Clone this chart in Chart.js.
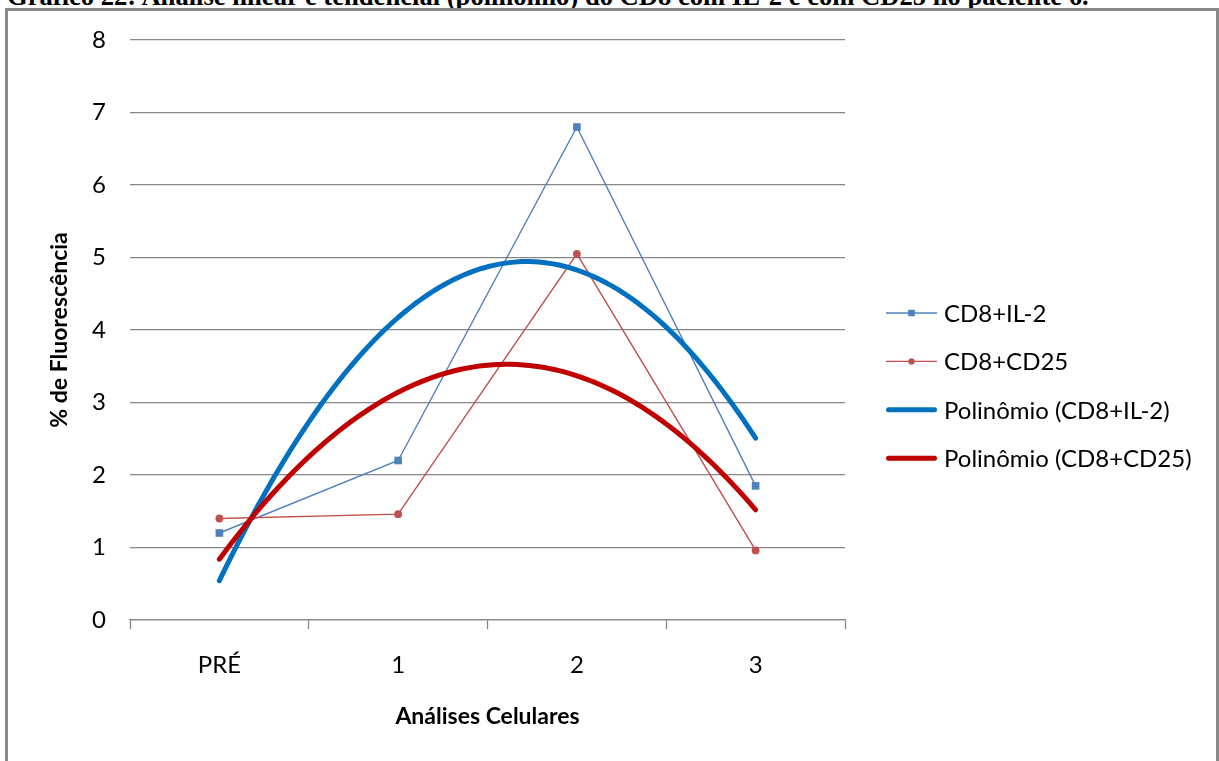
<!DOCTYPE html>
<html lang="pt">
<head>
<meta charset="utf-8">
<title>Gráfico 22</title>
<script src="https://cdn.jsdelivr.net/npm/chart.js@4"></script>
<style>
  html, body { margin: 0; padding: 0; background: #fff; width: 1219px; height: 761px; overflow: hidden; }
  #caption {
    position: absolute; left: 7px; top: -18px; margin: 0;
    font: bold 26.6px "Liberation Serif", "Times New Roman", serif;
    line-height: 28px; white-space: nowrap; color: #000;
  }
  #frame {
    position: absolute; left: 5px; top: 8px; width: 1214px; height: 800px;
    box-sizing: border-box; border: 3px solid #8a8a8a; border-bottom: none;
  }
  #chart { position: absolute; left: 0; top: 0; }
</style>
</head>
<body>
<p id="caption">Gráfico 22: Análise linear e tendencial (polinômio) do CD8 com IL-2 e com CD25 no paciente 6.</p>
<div id="frame"></div>
<canvas id="chart" width="1219" height="761"></canvas>
<script>
// Cell analysis moments (x axis) and fluorescence percentages per marker
const categories = ['PRÉ', '1', '2', '3'];
const cd8Il2 = [1.2, 2.2, 6.8, 1.85];
const cd8Cd25 = [1.4, 1.46, 5.05, 0.96];
const seriesNames = ['CD8+IL-2', 'CD8+CD25', 'Polinômio (CD8+IL-2)', 'Polinômio (CD8+CD25)'];
const yMin = 0, yMax = 8, yStep = 1;

const FONT = 'Lato, "Noto Sans", sans-serif';

// Second-order least-squares trend, evaluated along the category range
function quadFit(ys) {
  const xs = ys.map((_, i) => i + 1);
  const n = xs.length;
  let s = [0, 0, 0, 0, 0], t = [0, 0, 0];
  for (let i = 0; i < n; i++) {
    let p = 1;
    for (let k = 0; k <= 4; k++) { s[k] += p; if (k <= 2) t[k] += p * ys[i]; p *= xs[i]; }
  }
  // normal equations [s0 s1 s2; s1 s2 s3; s2 s3 s4] * [a b c] = t
  const M = [[s[0], s[1], s[2], t[0]], [s[1], s[2], s[3], t[1]], [s[2], s[3], s[4], t[2]]];
  for (let c = 0; c < 3; c++) {
    for (let r = c + 1; r < 3; r++) {
      const f = M[r][c] / M[c][c];
      for (let k = c; k < 4; k++) M[r][k] -= f * M[c][k];
    }
  }
  const coef = [0, 0, 0];
  for (let r = 2; r >= 0; r--) {
    let v = M[r][3];
    for (let k = r + 1; k < 3; k++) v -= M[r][k] * coef[k];
    coef[r] = v / M[r][r];
  }
  return x => coef[0] + coef[1] * x + coef[2] * x * x;
}

function trendPoints(ys) {
  const f = quadFit(ys);
  const pts = [];
  const steps = 90;
  for (let i = 0; i <= steps; i++) {
    const x = 1 + (ys.length - 1) * i / steps;
    pts.push({ x, y: f(x) });
  }
  return pts;
}

const toPoints = ys => ys.map((y, i) => ({ x: i + 1, y }));

// Legend drawn at the right of the plot, one row per series
const sideLegend = {
  id: 'sideLegend',
  afterDraw(chart) {
    const ctx = chart.ctx;
    const x0 = 886, x1 = 937, tx = 944, top = 313, gap = 48.4;
    chart.data.datasets.forEach((ds, i) => {
      const y = top + i * gap;
      ctx.save();
      ctx.strokeStyle = ds.borderColor;
      ctx.lineWidth = ds.borderWidth;
      ctx.lineCap = ds.borderCapStyle || 'butt';
      const inset = ctx.lineCap === 'round' ? ds.borderWidth / 2 : 0;
      ctx.beginPath();
      ctx.moveTo(x0 + inset, y);
      ctx.lineTo(x1 - inset, y);
      ctx.stroke();
      if (ds.pointRadius > 0) {
        ctx.fillStyle = ds.pointBackgroundColor;
        const r = ds.pointStyle === 'rect' ? 4.4 : 3;
        Chart.helpers.drawPoint(ctx, { pointStyle: ds.pointStyle, radius: r, borderWidth: 0 }, (x0 + x1) / 2, y);
        ctx.fill();
      }
      ctx.fillStyle = '#000';
      ctx.font = '24px ' + FONT;
      ctx.textBaseline = 'middle';
      ctx.textAlign = 'left';
      ctx.fillText(ds.label, tx, y + 1);
      ctx.restore();
    });
  }
};

new Chart(document.getElementById('chart'), {
  type: 'line',
  data: {
    datasets: [
      {
        label: seriesNames[0], data: toPoints(cd8Il2),
        borderColor: '#4F81BD', borderWidth: 1.4,
        pointStyle: 'rect', pointRadius: 5.4, pointBackgroundColor: '#4F81BD', pointBorderWidth: 0,
        order: 3
      },
      {
        label: seriesNames[1], data: toPoints(cd8Cd25),
        borderColor: '#C0504D', borderWidth: 1.4,
        pointStyle: 'circle', pointRadius: 3.9, pointBackgroundColor: '#C0504D', pointBorderWidth: 0,
        order: 2
      },
      {
        label: seriesNames[2], data: trendPoints(cd8Il2),
        borderColor: '#0070C0', borderWidth: 5, borderCapStyle: 'round', borderJoinStyle: 'round',
        pointRadius: 0, order: 1
      },
      {
        label: seriesNames[3], data: trendPoints(cd8Cd25),
        borderColor: '#C00000', borderWidth: 5, borderCapStyle: 'round', borderJoinStyle: 'round',
        pointRadius: 0, order: 0
      }
    ]
  },
  options: {
    responsive: false,
    devicePixelRatio: 1,
    animation: false,
    events: [],
    layout: { padding: { left: 8, top: 40, right: 374, bottom: 0 } },
    elements: { line: { tension: 0 } },
    plugins: { legend: { display: false }, tooltip: { enabled: false } },
    scales: {
      x: {
        type: 'linear', min: 0.5, max: categories.length + 0.5,
        afterFit: s => { s.height = 141; },
        afterBuildTicks: s => {
          const t = [];
          for (let v = 0.5; v <= categories.length + 0.5; v += 0.5) t.push({ value: v });
          s.ticks = t;
        },
        ticks: {
          autoSkip: false, maxRotation: 0, padding: 22, color: '#000',
          font: { family: FONT, size: 24 },
          callback: v => Number.isInteger(v) ? categories[v - 1] : ''
        },
        grid: {
          drawOnChartArea: false, tickLength: 9, tickWidth: 1.3,
          tickColor: c => (c.tick && !Number.isInteger(c.tick.value)) ? '#868686' : 'rgba(0,0,0,0)'
        },
        border: { display: true, color: '#868686', width: 1.3 },
        title: {
          display: true, text: 'Análises Celulares', color: '#000',
          font: { family: FONT, size: 23, weight: 'bold' },
          padding: { top: 0, bottom: 31 }
        }
      },
      y: {
        min: yMin, max: yMax,
        afterFit: s => { s.width = 122; },
        ticks: { stepSize: yStep, padding: 24, color: '#000', font: { family: FONT, size: 24 } },
        grid: { drawTicks: false, color: '#868686', lineWidth: 1.2 },
        border: { display: false },
        title: {
          display: true, text: '% de Fluorescência', color: '#000',
          font: { family: FONT, size: 23, weight: 'bold' },
          padding: { top: 38, bottom: 0 }
        }
      }
    }
  },
  plugins: [sideLegend]
});
</script>
</body>
</html>
